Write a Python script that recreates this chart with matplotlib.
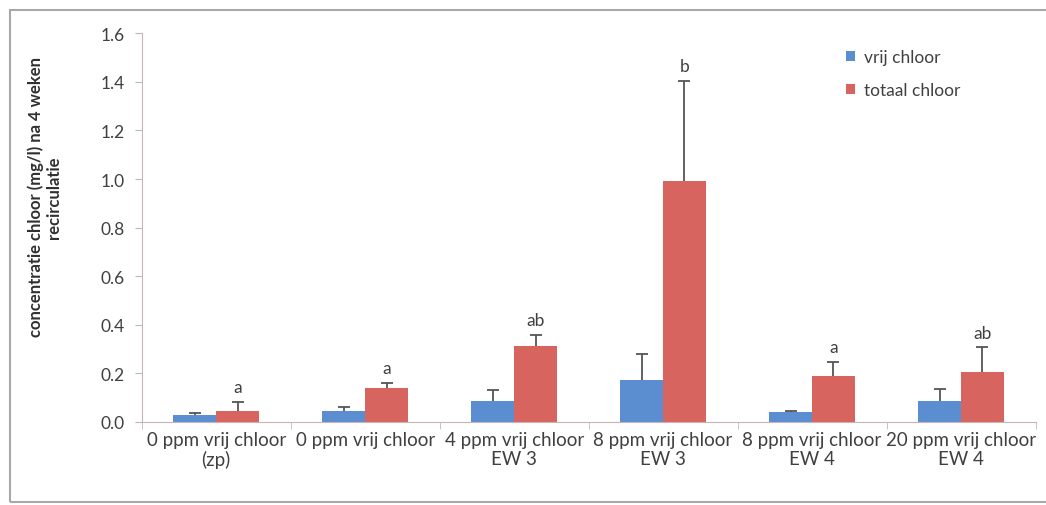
import matplotlib
matplotlib.use("Agg")
import matplotlib.pyplot as plt
import matplotlib.patches as mpatches
import numpy as np

categories = ["0 ppm vrij chloor\n(zp)", "0 ppm vrij chloor", "4 ppm vrij chloor\nEW 3",
              "8 ppm vrij chloor\nEW 3", "8 ppm vrij chloor\nEW 4", "20 ppm vrij chloor\nEW 4"]
vrij = [0.029, 0.043, 0.085, 0.170, 0.041, 0.087]
vrij_err = [0.005, 0.019, 0.044, 0.107, 0.004, 0.048]
totaal = [0.044, 0.138, 0.314, 0.990, 0.190, 0.206]
totaal_err = [0.037, 0.021, 0.044, 0.415, 0.055, 0.100]
letters = ["a", "a", "ab", "b", "a", "ab"]
yticks = [0.0, 0.2, 0.4, 0.6, 0.8, 1.0, 1.2, 1.4, 1.6]

plt.rcParams['font.family'] = ['Lato', 'DejaVu Sans']
blue = "#5B8ED0"
red = "#D8645F"
txt = "#404040"
axc = "#C8B4B4"

fig = plt.figure(figsize=(10.46, 5.06), dpi=100)
ax = fig.add_axes([0.1355, 0.1646, 0.990 - 0.1355, 0.932 - 0.1646])

x = np.arange(len(categories))
w = 0.287
ax.bar(x - w/2, vrij, w, color=blue, label="vrij chloor", zorder=2)
ax.bar(x + w/2, totaal, w, color=red, label="totaal chloor", zorder=2)
ekw = dict(fmt="none", ecolor="#555555", elinewidth=1.3, capsize=4, capthick=1.3, zorder=3)
for xs, vals, errs in [(x - w/2, vrij, vrij_err), (x + w/2, totaal, totaal_err)]:
    eb = ax.errorbar(xs, vals, yerr=[np.zeros(len(vals)), errs], **ekw)
    eb[1][0].set_visible(False)
for xi, t, e, l in zip(x, totaal, totaal_err, letters):
    ax.annotate(l, (xi + w/2, t + e), xytext=(0, 5), textcoords="offset points",
                ha="center", va="bottom", fontsize=12.5, color=txt)

ax.set_xlim(-0.5, len(categories) - 0.5)
ax.set_ylim(0, 1.6)
ax.set_yticks(yticks)
ax.set_yticklabels([f"{v:.1f}" for v in yticks], fontsize=12.5, color=txt)
ax.set_xticks(x)
ax.set_xticklabels(categories, fontsize=13.5, color=txt, linespacing=1.1)
ax.tick_params(axis="x", length=0, pad=7)
ax.set_xticks(np.arange(len(categories) + 1) - 0.5, minor=True)
ax.tick_params(axis="x", which="minor", length=5, color=axc)
ax.tick_params(axis="y", length=5, color=axc, pad=7)
for s in ["top", "right"]:
    ax.spines[s].set_visible(False)
for s in ["left", "bottom"]:
    ax.spines[s].set_color(axc)
ax.set_ylabel("concentratie chloor (mg/l) na 4 weken\nrecirculatie", fontsize=12,
              fontweight="bold", color="#303030", linespacing=1.15)
ax.yaxis.set_label_coords(-0.089, 0.58)

ax.legend(loc="upper left", bbox_to_anchor=(0.77, 1.0), frameon=False, fontsize=12.5,
          handlelength=0.55, handleheight=0.55, labelspacing=1.0, handletextpad=0.5,
          labelcolor=txt)

fig.patches.append(mpatches.Rectangle((10/1046, 3/506), 1.1, (506 - 11 - 3)/506,
                                      transform=fig.transFigure, fill=False,
                                      edgecolor="#A8A8A8", linewidth=1.5))
fig.savefig("out.png", dpi=100)
